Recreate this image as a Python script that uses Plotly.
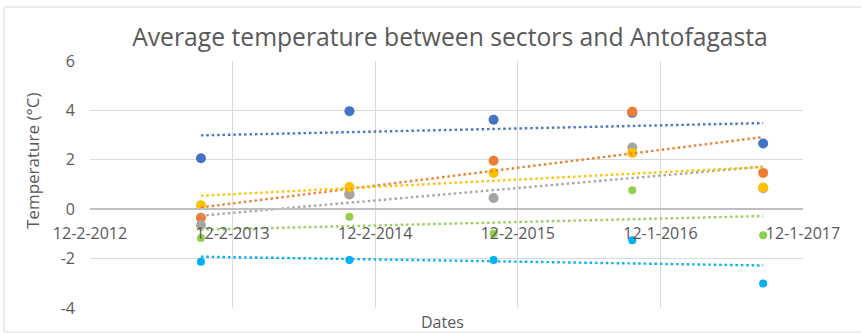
import numpy as np
import pandas as pd
import plotly.graph_objects as go

# ---- data ----
dates = ["2013-09-12", "2014-09-27", "2015-10-01", "2016-09-20", "2017-08-21"]
tick_dates = ["2012-12-02", "2013-12-02", "2014-12-02", "2015-12-02", "2016-12-01", "2017-12-01"]
tick_labels = ["12-2-2012", "12-2-2013", "12-2-2014", "12-2-2015", "12-1-2016", "12-1-2017"]
y_ticks = [-4, -2, 0, 2, 4, 6]
y_tick_labels = ["-4", "-2", "0", "2", "4", "6"]

series_names = ["Sector 1", "Sector 2", "Sector 3", "Sector 4", "Sector 5", "Antofagasta"]
s1 = [2.06, 3.97, 3.62, 3.90, 2.66]
s2 = [-0.35, 0.60, 1.96, 3.95, 1.47]
s3 = [-0.65, 0.61, 0.45, 2.50, 0.85]
s4 = [0.16, 0.90, 1.47, 2.28, 0.88]
s5 = [-2.13, -2.06, -2.06, -1.26, -3.01]
s6 = [-1.17, -0.31, -0.98, 0.77, -1.05]

colors = ["#4472C4", "#ED7D31", "#A5A5A5", "#FFC000", "#00B0F0", "#92D050"]
sizes = [10, 10, 10, 10, 8, 8]

all_series = [s1, s2, s3, s4, s5, s6]

W, H = 861, 333
L, R, T, B = 90, 58, 61, 25
pw, ph = W - L - R, H - T - B

fig = go.Figure()

xd = pd.to_datetime(pd.Series(dates))
xnum = (xd - xd.iloc[0]).dt.days.to_numpy().astype(float)

for name, ys, c, sz in zip(series_names, all_series, colors, sizes):
    fig.add_trace(go.Scatter(x=dates, y=ys, mode="markers", name=name,
                             marker=dict(color=c, size=sz), showlegend=False))

for name, ys, c in zip(series_names, all_series, colors):
    k, b0 = np.polyfit(xnum, np.array(ys, dtype=float), 1)
    ends = np.array([xnum[0], xnum[-1]])
    fig.add_trace(go.Scatter(x=[dates[0], dates[-1]], y=k * ends + b0, mode="lines",
                             name=name + " trend",
                             line=dict(color=c, width=2.4, dash="2.4px,3px"),
                             showlegend=False, hoverinfo="skip"))

font = "Open Sans, Lato, sans-serif"
gray_txt = "#595959"

fig.update_layout(
    width=W, height=H,
    margin=dict(l=L, r=R, t=T, b=B),
    paper_bgcolor="white", plot_bgcolor="white",
    font=dict(family=font, color=gray_txt, size=16),
    title=dict(text="Average temperature between sectors and Antofagasta",
               x=450 / W, xanchor="center", xref="container",
               y=1 - 37 / H, yanchor="middle", yref="container",
               font=dict(family=font, size=24.7, color=gray_txt)),
    xaxis=dict(type="date", range=[tick_dates[0], tick_dates[-1]],
               tickmode="array", tickvals=tick_dates, ticktext=tick_labels,
               showgrid=True, gridcolor="#D9D9D9", gridwidth=1,
               showline=True, linecolor="#BFBFBF", linewidth=1.5,
               anchor="free", position=0.4, automargin=False,
               ticks="", ticklabelstandoff=10,
               tickfont=dict(family=font, size=16, color=gray_txt),
               zeroline=False),
    yaxis=dict(range=[-4, 6], tickmode="array", tickvals=y_ticks, ticktext=y_tick_labels,
               showgrid=True, gridcolor="#D9D9D9", gridwidth=1,
               zeroline=False, showline=False, ticks="", automargin=False,
               ticklabelstandoff=14,
               tickfont=dict(family=font, size=16, color=gray_txt)),
    annotations=[
        dict(text="Temperature (°C)", xref="paper", yref="paper",
             x=(32 - L) / pw, y=(H - B - 161) / ph, textangle=-90,
             showarrow=False, xanchor="center", yanchor="middle",
             font=dict(family=font, size=17, color=gray_txt)),
        dict(text="Dates", xref="paper", yref="paper",
             x=(442 - L) / pw, y=(H - B - 322) / ph,
             showarrow=False, xanchor="center", yanchor="middle",
             font=dict(family=font, size=16, color=gray_txt)),
    ],
    shapes=[
        dict(type="line", xref="paper", yref="paper",
             x0=(4 - L) / pw, x1=(4 - L) / pw, y0=(H - B - 7) / ph, y1=(H - B - 332) / ph,
             line=dict(color="#D9D9D9", width=1)),
        dict(type="line", xref="paper", yref="paper",
             x0=(4 - L) / pw, x1=(W + 5 - L) / pw, y0=(H - B - 7) / ph, y1=(H - B - 7) / ph,
             line=dict(color="#D9D9D9", width=1)),
        dict(type="line", xref="paper", yref="paper",
             x0=(4 - L) / pw, x1=(W + 5 - L) / pw, y0=(H - B - 332) / ph, y1=(H - B - 332) / ph,
             line=dict(color="#D9D9D9", width=1)),
    ],
)

fig.write_html("out.html", config={"displayModeBar": False},
               post_script="document.body.style.margin='0';")
